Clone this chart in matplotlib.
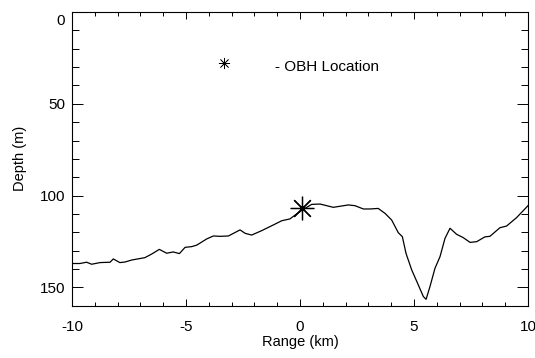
import matplotlib
matplotlib.use("Agg")
import matplotlib.pyplot as plt
from matplotlib.ticker import MultipleLocator, FuncFormatter

plt.rcParams['font.family'] = ['Liberation Sans', 'DejaVu Sans']
plt.rcParams['axes.unicode_minus'] = False

range_km = [-10.0, -9.65, -9.36, -9.14, -8.77, -8.33, -8.19, -7.9, -7.68, -7.38,
            -6.8, -6.5, -6.17, -5.85, -5.56, -5.29, -5.04, -4.75, -4.53, -4.09,
            -3.8, -3.5, -3.14, -2.63, -2.4, -2.12, -1.68, -1.17, -0.8, -0.44,
            -0.15, 0.15, 0.51, 0.88, 1.46, 2.12, 2.41, 2.78, 3.07, 3.43,
            3.73, 4.02, 4.31, 4.49, 4.65, 4.9, 5.19, 5.41, 5.53, 5.7,
            5.92, 6.14, 6.36, 6.58, 6.87, 7.16, 7.46, 7.75, 8.11, 8.33,
            8.77, 9.06, 9.5, 10.0]
depth_m = [137.0, 137.0, 136.3, 137.4, 136.5, 136.3, 134.5, 136.5, 136.2, 135.1,
           133.8, 131.8, 129.3, 131.4, 130.7, 131.6, 128.2, 127.8, 127.0, 123.6,
           122.0, 122.2, 122.0, 118.7, 120.6, 121.5, 119.1, 116.0, 113.7, 112.7,
           110.0, 107.5, 104.8, 104.6, 106.4, 105.1, 105.5, 107.3, 107.3, 107.0,
           109.7, 113.3, 120.2, 122.4, 131.5, 140.5, 148.7, 155.0, 156.5, 149.6,
           139.6, 133.3, 123.3, 117.8, 121.1, 122.9, 125.5, 125.1, 122.5, 122.2,
           117.5, 116.6, 112.0, 105.5]

obh_range = [0.1]
obh_depth = [107.0]
legend_marker_pos = (-3.35, 28.0)
legend_text = "- OBH Location"

fig = plt.figure(figsize=(5.35, 3.58), dpi=100)
ax = fig.add_axes([0.1346, 0.146, 0.8523, 0.8205])

ax.plot(range_km, depth_m, color='black', lw=0.9)
ax.plot(obh_range, obh_depth, linestyle='none', marker=(8, 2, 0),
        markersize=17, markeredgewidth=0.9, color='black')
ax.plot([legend_marker_pos[0]], [legend_marker_pos[1]], linestyle='none',
        marker=(8, 2, 0), markersize=8, markeredgewidth=0.5, color='black')
ax.text(-1.1, 30.0, legend_text, fontsize=11, va='center', ha='left')

ax.set_xlim(-10, 10)
ax.set_ylim(160, 0)
ax.xaxis.set_major_locator(MultipleLocator(5))
ax.xaxis.set_minor_locator(MultipleLocator(1))
ax.yaxis.set_major_locator(MultipleLocator(50))
ax.yaxis.set_minor_locator(MultipleLocator(10))
ax.yaxis.set_major_formatter(FuncFormatter(lambda v, p: '' if abs(v) < 1e-9 else f'{v:g}'))
ax.tick_params(axis='both', which='both', direction='in', top=True, right=True,
               labelsize=11, width=0.7)
ax.tick_params(axis='x', which='major', length=5, pad=10)
ax.tick_params(axis='x', which='minor', length=3)
ax.tick_params(axis='y', which='major', length=8, pad=5)
ax.tick_params(axis='y', which='minor', length=5)
for s in ax.spines.values():
    s.set_linewidth(0.8)
ax.set_xlabel("Range (km)", fontsize=10.5, labelpad=1)
ax.set_ylabel("Depth (m)", fontsize=10.5, labelpad=9)

# top "0" label sits just below the axis top, as in the reference
ax.annotate("0", xy=(0, 0), xycoords=ax.get_yaxis_transform(),
            xytext=(-5, -1.5), textcoords='offset points',
            ha='right', va='top', fontsize=11)

fig.savefig("out.png", dpi=100)
